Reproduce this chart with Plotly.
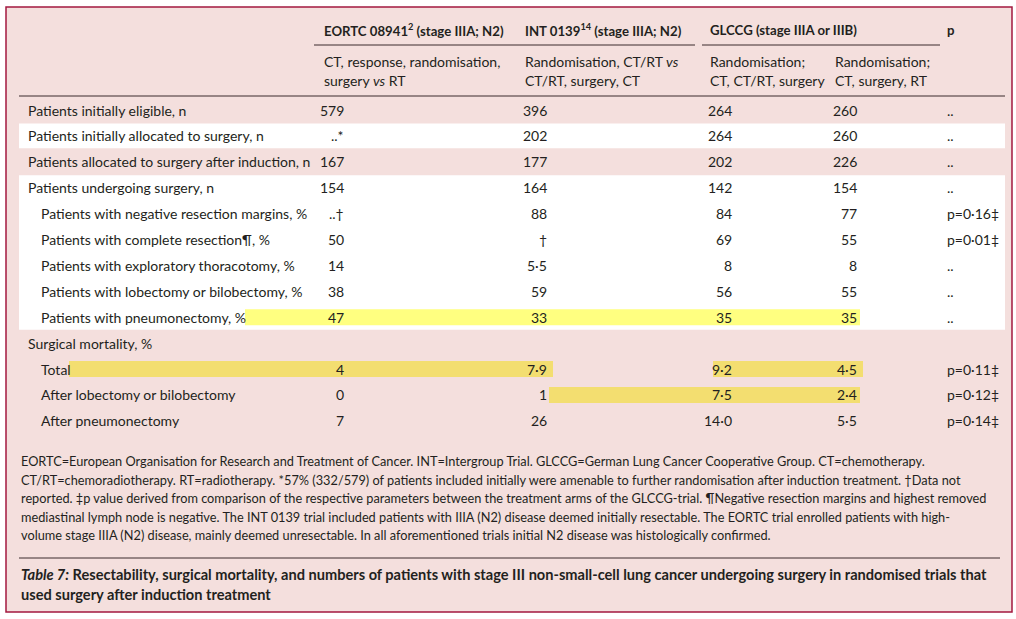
import plotly.graph_objects as go

# ---------------- data ----------------
group_titles = ["EORTC 08941<sup>2</sup> (stage IIIA; N2)", "INT 0139<sup>14</sup> (stage IIIA; N2)",
                "GLCCG (stage IIIA or IIIB)", "p"]
sub_headers = [["CT, response, randomisation,", "surgery <i>vs</i> RT"],
               ["Randomisation, CT/RT <i>vs</i>", "CT/RT, surgery, CT"],
               ["Randomisation;", "CT, CT/RT, surgery"],
               ["Randomisation;", "CT, surgery, RT"]]
row_labels = ["Patients initially eligible, n",
              "Patients initially allocated to surgery, n",
              "Patients allocated to surgery after induction, n",
              "Patients undergoing surgery, n",
              "Patients with negative resection margins, %",
              "Patients with complete resection¶, %",
              "Patients with exploratory thoracotomy, %",
              "Patients with lobectomy or bilobectomy, %",
              "Patients with pneumonectomy, %",
              "Surgical mortality, %",
              "Total",
              "After lobectomy or bilobectomy",
              "After pneumonectomy"]
row_indent = [0, 0, 0, 0, 1, 1, 1, 1, 1, 0, 1, 1, 1]
eortc = ["579", "..*", "167", "154", "..†", "50", "14", "38", "47", "", "4", "0", "7"]
int0139 = ["396", "202", "177", "164", "88", "†", "5·5", "59", "33", "", "7·9", "1", "26"]
glccg_a = ["264", "264", "202", "142", "84", "69", "8", "56", "35", "", "9·2", "7·5", "14·0"]
glccg_b = ["260", "260", "226", "154", "77", "55", "8", "55", "35", "", "4·5", "2·4", "5·5"]
p_vals = ["..", "..", "..", "..", "p=0·16‡", "p=0·01‡", "..", "..", "..", "", "p=0·11‡", "p=0·12‡", "p=0·14‡"]
white_rows = [1, 3, 4, 5, 6, 7, 8]
footnotes = [
    "EORTC=European Organisation for Research and Treatment of Cancer. INT=Intergroup Trial. GLCCG=German Lung Cancer Cooperative Group. CT=chemotherapy.",
    "CT/RT=chemoradiotherapy. RT=radiotherapy. *57% (332/579) of patients included initially were amenable to further randomisation after induction treatment. †Data not",
    "reported. ‡p value derived from comparison of the respective parameters between the treatment arms of the GLCCG-trial. ¶Negative resection margins and highest removed",
    "mediastinal lymph node is negative. The INT 0139 trial included patients with IIIA (N2) disease deemed initially resectable. The EORTC trial enrolled patients with high-",
    "volume stage IIIA (N2) disease, mainly deemed unresectable. In all aforementioned trials initial N2 disease was histologically confirmed.",
]
caption = ["<i>Table 7:</i> Resectability, surgical mortality, and numbers of patients with stage III non-small-cell lung cancer undergoing surgery in randomised trials that",
           "used surgery after induction treatment"]

# ---------------- layout geometry ----------------
W, H = 1016, 619
PINK = "#f4dfdd"
BORDER = "#a3193f"
TXT = "#231f20"
FONT = "Lato"
row_y0 = 110
row_h = 25.9
col_right = [346, 549, 734, 859]
col_head_x = [322, 523, 708, 833]
p_x = 945

def ry(i):
    return row_y0 + i * row_h

fig = go.Figure()
shapes = []
ann = []

# page background / border
shapes.append(dict(type="rect", x0=6, x1=1012, y0=7, y1=612, fillcolor=PINK,
                   line=dict(color=BORDER, width=1.5), layer="below"))
# white row bands (merge consecutive)
i = 0
while i < len(white_rows):
    j = i
    while j + 1 < len(white_rows) and white_rows[j + 1] == white_rows[j] + 1:
        j += 1
    shapes.append(dict(type="rect", x0=19, x1=1005, y0=ry(white_rows[i]) - row_h / 2 + 0.5,
                       y1=ry(white_rows[j]) + row_h / 2 - 0.5,
                       fillcolor="white", line=dict(width=0), layer="below"))
    i = j + 1

# highlights: (row, x0, x1, colour)
highlights = [(8, 245, 860, "#ffff80"), (10, 69, 553, "#f3de70"), (10, 713, 863, "#f3de70"),
              (11, 549, 860, "#f3de70")]
for r, x0, x1, c in highlights:
    shapes.append(dict(type="rect", x0=x0, x1=x1, y0=ry(r) - 8, y1=ry(r) + 8,
                       fillcolor=c, line=dict(width=0), layer="below"))

# rules
for x0, x1, y in [(314, 695, 45), (702, 940, 45), (19, 1005, 96), (19, 1000, 558)]:
    shapes.append(dict(type="line", x0=x0, x1=x1, y0=y, y1=y, line=dict(color="#3a2a2c", width=1)))

def text(x, y, s, size=14, anchor="left", color=TXT):
    ann.append(dict(x=x, y=y, text=s, showarrow=False, xanchor=anchor, yanchor="middle",
                    font=dict(family=FONT, size=size, color=color), xref="x", yref="y"))

# header
for k, t in enumerate(group_titles[:3]):
    text(col_head_x[k], 30, "<b>" + t + "</b>", size=13.2)
text(p_x, 30, "<b>p</b>", size=13.2)
for k, (l1, l2) in enumerate(sub_headers):
    text(col_head_x[k], 61, l1)
    text(col_head_x[k], 80, l2)

# body
for r, lab in enumerate(row_labels):
    y = ry(r)
    text(26 if row_indent[r] == 0 else 39, y, lab)
    for c, arr in enumerate([eortc, int0139, glccg_a, glccg_b]):
        if arr[r]:
            text(col_right[c], y, arr[r], anchor="right")
    if p_vals[r]:
        text(p_x, y, p_vals[r])

# footnotes
for k, line in enumerate(footnotes):
    text(19, 461 + k * 18.5, line, size=12.75)
for k, line in enumerate(caption):
    text(19, 574 + k * 20.5, "<b>" + line + "</b>", size=14.6)

fig.update_layout(
    width=W, height=H, margin=dict(l=0, r=0, t=0, b=0),
    paper_bgcolor="white", plot_bgcolor="white",
    xaxis=dict(range=[0, W], visible=False, fixedrange=True),
    yaxis=dict(range=[H, 0], visible=False, fixedrange=True),
    shapes=shapes, annotations=ann, showlegend=False,
)
fig.write_html("out.html", config={"displayModeBar": False},
               post_script="document.body.style.margin='0';document.body.style.overflow='hidden';")
